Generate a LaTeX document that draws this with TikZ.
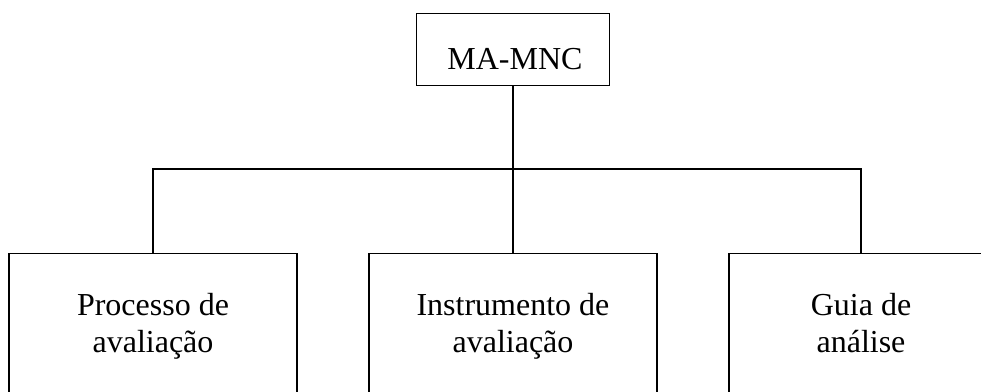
\documentclass[tikz,border=0pt]{standalone}
\usepackage{fontspec}
\setmainfont{Liberation Serif}
\begin{document}
\begin{tikzpicture}[x=0.75pt,y=-0.75pt,
  box/.style={draw=black,line width=1pt,fill=none,inner sep=0pt,anchor=north},
  lbl/.style={font=\fontsize{24}{27.75}\selectfont,align=center,inner sep=0pt},
  conn/.style={draw=black,line width=1pt}]
\clip (0,0) rectangle (981,392);
\useasboundingbox (0,0) rectangle (981,392);
% boxes
\node[box,minimum width=144.75pt,minimum height=54pt] (top) at (513,13) {};
\node[box,minimum width=216pt,minimum height=150pt] (p) at (153,253) {};
\node[box,minimum width=216pt,minimum height=150pt] (i) at (513,253) {};
\node[box,minimum width=198pt,minimum height=150pt] (g) at (861,253) {};
% labels
\node[lbl,anchor=base] (ttop) at (515,70) {MA-MNC};
\node[lbl,anchor=base] (tp) at (153,352) {Processo de\\avaliação};
\node[lbl,anchor=base] (ti) at (513,352) {Instrumento de\\avaliação};
\node[lbl,anchor=base] (tg) at (861,352) {Guia de\\análise};
% connectors
\coordinate (hl) at (153,169);
\coordinate (hr) at (861,169);
\draw[conn] (top.south) -- (i.north);
\draw[conn] (p.north) -- (hl) -- (hr) -- (g.north);
\end{tikzpicture}
\end{document}
